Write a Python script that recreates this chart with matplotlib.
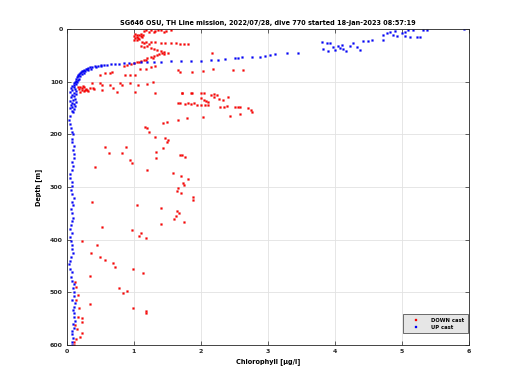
import matplotlib
matplotlib.use("Agg")
import matplotlib.pyplot as plt

title = "SG646 OSU, TH Line mission, 2022/07/28, dive 770 started 18-Jan-2023 08:57:19"
xlabel = "Chlorophyll [μg/l]"
ylabel = "Depth [m]"
legend_labels = ["DOWN cast", "UP cast"]
x_ticks = [0, 1, 2, 3, 4, 5, 6]
y_ticks = [0, 100, 200, 300, 400, 500, 600]

# DOWN cast (chlorophyll, depth)
down_points = [
    (1.18, 1), (1.25, 2), (1.32, 3), (1.40, 2), (1.48, 4), (1.55, 1), (1.22, 5),
    (1.30, 6), (1.15, 4), (1.45, 6), (1.36, 1),
    (1.02, 10), (1.05, 12), (1.08, 11), (1.00, 14), (1.04, 15), (1.10, 13), (1.06, 17),
    (1.02, 18), (1.08, 19), (1.12, 16), (1.00, 20), (1.05, 21), (1.10, 9), (1.13, 12),
    (1.12, 24), (1.18, 24), (1.25, 25), (1.32, 25), (1.40, 26), (1.47, 26), (1.55, 27),
    (1.62, 27), (1.68, 28), (1.75, 28), (1.80, 29), (1.15, 27), (1.22, 28),
    (1.10, 32), (1.15, 34), (1.20, 33), (1.25, 36), (1.30, 38), (1.35, 40), (1.40, 42),
    (1.45, 44), (1.42, 46), (1.38, 48), (1.45, 47), (1.50, 45),
    (1.35, 50), (1.30, 52), (1.25, 54), (1.20, 56), (1.15, 58), (1.10, 60), (1.05, 62),
    (1.00, 64), (0.95, 66), (0.90, 68), (0.85, 70), (1.28, 55), (1.18, 59), (1.08, 63),
    (2.16, 46), (1.69, 82), (2.03, 80), (2.18, 76), (2.48, 78), (2.62, 77),
    (0.49, 87), (0.57, 84), (0.64, 84), (0.67, 81), (0.87, 87), (0.94, 87), (1.01, 87),
    (1.09, 75), (1.18, 75), (1.66, 78), (1.87, 81), (1.25, 72), (1.32, 70),
    (0.37, 103), (0.49, 103), (0.52, 106), (0.64, 106), (0.69, 112), (0.79, 103),
    (0.82, 106), (0.94, 103), (1.06, 106), (0.39, 112), (0.52, 116), (0.75, 119),
    (1.01, 119), (1.31, 122), (1.72, 122), (1.87, 122), (1.20, 104), (1.28, 101),
    (0.20, 110), (0.22, 112), (0.25, 111), (0.18, 114), (0.28, 113), (0.30, 115),
    (0.22, 116), (0.26, 118), (0.20, 119), (0.32, 117), (0.24, 109), (0.35, 112),
    (0.40, 114), (0.17, 111), (0.27, 115),
    (1.72, 121), (1.85, 121), (2.00, 121), (2.04, 122), (2.15, 125), (2.20, 124),
    (2.24, 126), (2.00, 131), (2.05, 134), (2.08, 137), (2.10, 139), (2.20, 129),
    (2.27, 132), (2.33, 134), (2.40, 130), (1.69, 140), (1.76, 142), (1.85, 143),
    (1.94, 144), (2.00, 144), (2.06, 145), (2.10, 144), (2.28, 148), (2.34, 148),
    (2.39, 147), (2.50, 148), (2.55, 149), (2.58, 148), (2.70, 150), (2.74, 153),
    (2.76, 157), (1.66, 141), (1.80, 141), (1.90, 141),
    (1.66, 173), (1.79, 169), (2.03, 167), (2.43, 165), (2.58, 161),
    (1.16, 186), (1.20, 188), (1.22, 195), (1.31, 205), (1.43, 226), (1.46, 207),
    (1.49, 214), (1.51, 211), (1.43, 179), (1.49, 176),
    (0.57, 224), (0.63, 236), (0.82, 236), (0.88, 224), (0.94, 249), (0.97, 254),
    (0.42, 262), (1.19, 268), (1.33, 234), (1.33, 245), (1.58, 274), (1.69, 239),
    (1.76, 243), (1.72, 239),
    (1.70, 279), (1.80, 285), (1.73, 292), (1.75, 296), (1.66, 302), (1.64, 307),
    (1.70, 312), (1.88, 319), (1.88, 325), (0.37, 329), (1.05, 334), (1.40, 340),
    (1.64, 345), (1.67, 350), (1.63, 356), (1.60, 361), (1.75, 366), (1.40, 370),
    (0.52, 376), (0.97, 382), (1.10, 387), (1.07, 393), (1.18, 397), (0.22, 402),
    (0.45, 410), (0.36, 425), (0.49, 432), (0.57, 438), (0.69, 445), (0.72, 451),
    (0.98, 456), (1.13, 463), (0.34, 469), (0.78, 492), (0.84, 502), (0.90, 497),
    (0.98, 529), (1.18, 535), (1.18, 540), (0.34, 523),
    (0.12, 480), (0.14, 490), (0.16, 505), (0.13, 515), (0.18, 530), (0.17, 546),
    (0.22, 549), (0.23, 556), (0.12, 562), (0.15, 570), (0.23, 578), (0.20, 585),
    (0.13, 588), (0.10, 594), (0.10, 600),
]

# UP cast (chlorophyll, depth)
up_points = [
    (5.93, 0),
    (4.72, 11), (4.78, 8), (4.82, 5), (4.87, 11), (4.93, 14), (5.00, 8), (5.04, 14),
    (5.09, 2), (5.12, 16), (5.17, 2), (5.22, 16), (5.27, 16), (5.31, 2), (4.72, 21),
    (4.90, 3), (5.05, 5), (5.38, 1),
    (3.80, 24), (3.88, 26), (3.93, 27), (3.82, 38), (3.90, 42), (3.97, 35), (4.04, 33),
    (4.10, 30), (4.12, 38), (4.17, 42), (4.22, 33), (4.27, 27), (4.33, 35), (4.37, 40),
    (4.42, 23), (4.49, 23), (4.55, 21), (4.00, 40), (4.08, 36),
    (2.36, 57), (2.51, 55), (2.55, 56), (2.61, 53), (2.76, 53), (2.88, 54), (2.96, 52),
    (3.03, 50), (3.10, 48), (3.28, 46), (3.45, 45),
    (2.25, 58), (2.15, 59), (2.00, 60), (1.85, 60), (1.70, 61), (1.55, 61), (1.40, 62),
    (1.30, 62), (1.20, 63), (1.10, 63), (1.00, 64), (0.92, 64), (0.85, 65), (0.78, 66),
    (0.72, 66), (0.66, 67), (0.60, 68), (0.55, 68), (0.50, 69), (0.46, 70), (0.42, 71),
    (0.38, 72), (0.35, 73), (0.32, 74), (0.30, 75), (0.28, 76), (0.26, 78), (0.24, 79),
    (0.22, 80), (0.21, 82), (0.19, 84), (0.18, 86), (0.17, 88), (0.16, 90), (0.15, 92),
    (0.14, 95), (0.13, 98), (0.12, 100), (0.11, 103), (0.10, 106), (0.10, 110),
    (0.50, 70), (0.36, 75), (0.27, 80), (0.22, 85), (0.20, 90), (0.18, 95), (0.15, 100),
    (0.13, 105), (0.44, 72), (0.31, 77), (0.25, 83), (0.16, 97), (0.08, 108),
    (0.06, 112), (0.12, 114), (0.08, 116), (0.14, 118), (0.05, 120), (0.10, 122),
    (0.13, 124), (0.07, 126), (0.11, 128), (0.06, 130), (0.12, 132), (0.09, 134),
    (0.05, 136), (0.13, 138), (0.08, 140), (0.10, 142), (0.06, 144), (0.12, 146),
    (0.08, 148), (0.05, 150), (0.10, 152), (0.07, 155), (0.09, 158),
    (0.04, 165), (0.03, 172), (0.05, 180), (0.06, 188), (0.08, 195), (0.09, 200),
    (0.07, 208), (0.08, 215), (0.10, 222), (0.09, 230), (0.11, 238), (0.10, 245),
    (0.08, 252), (0.09, 260), (0.07, 268), (0.05, 276), (0.04, 283), (0.07, 290),
    (0.08, 298), (0.06, 305), (0.07, 313), (0.10, 320), (0.08, 328), (0.09, 335),
    (0.06, 342), (0.07, 350), (0.09, 358), (0.08, 365), (0.06, 372), (0.05, 380),
    (0.07, 388), (0.04, 395), (0.06, 402), (0.08, 410), (0.07, 418), (0.09, 425),
    (0.06, 432), (0.05, 440), (0.03, 447), (0.05, 455), (0.07, 462), (0.06, 470),
    (0.08, 478), (0.10, 485), (0.09, 492), (0.11, 500), (0.10, 507), (0.08, 514),
    (0.12, 520), (0.10, 527), (0.09, 534), (0.11, 540), (0.10, 547), (0.12, 554),
    (0.09, 560), (0.10, 567), (0.08, 574), (0.07, 580), (0.09, 587), (0.08, 594),
    (0.07, 600),
]

down_chl = [p[0] for p in down_points]
down_depth = [p[1] for p in down_points]
up_chl = [p[0] for p in up_points]
up_depth = [p[1] for p in up_points]

plt.rcParams['font.family'] = ['DejaVu Sans']
fig = plt.figure(figsize=(5.2, 3.9), dpi=100)
ax = fig.add_axes([67 / 520, 1 - 345 / 390, (469 - 67) / 520, (345 - 29) / 390])

ax.plot(down_chl, down_depth, linestyle='none', marker='s', ms=1.3,
        color='#ff0000', mec='#dd0000', mew=0.2, label=legend_labels[0])
ax.plot(up_chl, up_depth, linestyle='none', marker='s', ms=1.3,
        color='#0000ff', mec='#0000dd', mew=0.2, label=legend_labels[1])

ax.set_xlim(0, 6)
ax.set_ylim(600, 0)
ax.set_xticks(x_ticks)
ax.set_yticks(y_ticks)
ax.set_xticklabels([str(t) for t in x_ticks])
ax.set_yticklabels([str(t) for t in y_ticks])
ax.grid(True, color='#e2e2e2', linewidth=0.6)
ax.set_axisbelow(True)
ax.tick_params(direction='in', length=3, width=0.5, labelsize=4.5, top=True, right=True,
               colors='#262626', pad=3)
for lab in ax.get_xticklabels() + ax.get_yticklabels():
    lab.set_fontweight('bold')
for s in ax.spines.values():
    s.set_linewidth(0.6)
    s.set_color('#262626')

ax.set_title(title, fontsize=4.7, fontweight='bold', pad=3)
ax.set_xlabel(xlabel, fontsize=4.7, fontweight='bold', labelpad=3)
ax.set_ylabel(ylabel, fontsize=4.7, fontweight='bold', labelpad=6)

leg = ax.legend(loc='lower right', fontsize=3.8, frameon=True, fancybox=False,
                markerscale=1.3, borderpad=0.6, handlelength=4.0, labelspacing=0.4,
                bbox_to_anchor=(1.003, 0.03))
leg.get_frame().set_facecolor('#e6e6e6')
leg.get_frame().set_edgecolor('#333333')
leg.get_frame().set_linewidth(0.5)
leg.get_frame().set_alpha(1)
for t in leg.get_texts():
    t.set_fontweight('bold')

fig.savefig('out.png', dpi=100)
